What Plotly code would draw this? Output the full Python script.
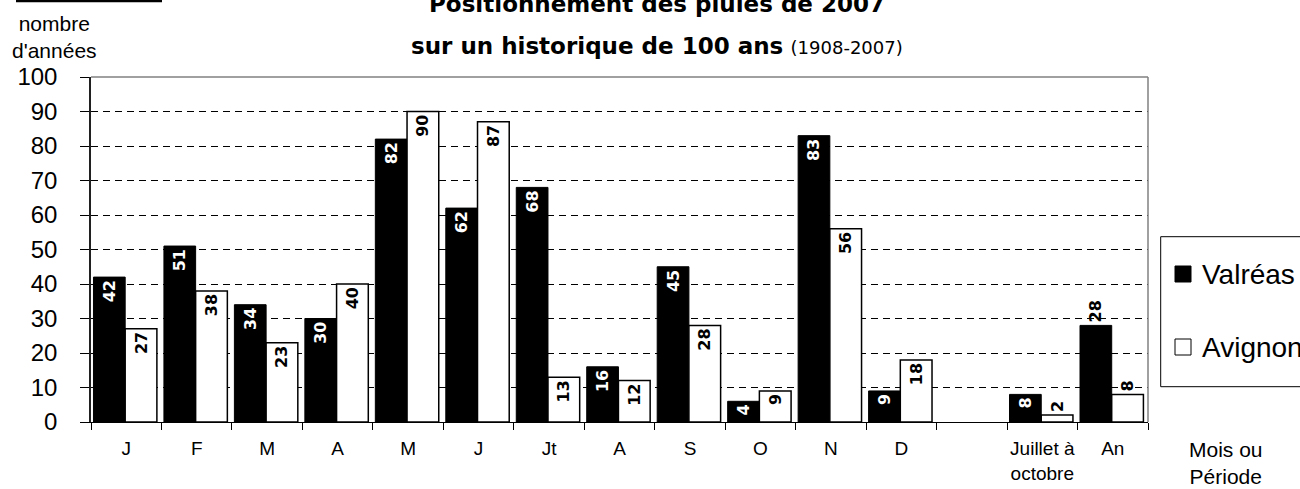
import plotly.graph_objects as go

# ---- data ----
categories = ["J", "F", "M", "A", "M", "J", "Jt", "A", "S", "O", "N", "D", "",
              "Juillet à<br>octobre", "An"]
valreas = [42, 51, 34, 30, 82, 62, 68, 16, 45, 6, 83, 9, None, 8, 28]
valreas_labels = ["42", "51", "34", "30", "82", "62", "68", "16", "45", "4", "83", "9", "", "8", "28"]
avignon = [27, 38, 23, 40, 90, 87, 13, 12, 28, 9, 56, 18, None, 2, 8]
avignon_labels = ["27", "38", "23", "40", "90", "87", "13", "12", "28", "9", "56", "18", "", "2", "8"]
y_ticks = list(range(0, 101, 10))

# ---- styles ----
valreas_pos = ["inside"] * 14 + ["outside"]
avignon_pos = ["inside"] * 13 + ["outside", "outside"]

x = list(range(len(categories)))
LAB = dict(family="DejaVu Sans", size=16, weight="bold")

fig = go.Figure()
fig.add_trace(go.Bar(
    x=x, y=valreas, name="Valréas", text=valreas_labels, textposition=valreas_pos,
    textangle=-90, insidetextanchor="end", constraintext="none", cliponaxis=False,
    insidetextfont=dict(LAB, color="white"), outsidetextfont=dict(LAB, color="black"),
    marker=dict(color="black", line=dict(color="black", width=1)),
    width=0.45, offset=-0.465, hoverinfo="skip"))
fig.add_trace(go.Bar(
    x=x, y=avignon, name="Avignon", text=avignon_labels, textposition=avignon_pos,
    textangle=-90, insidetextanchor="end", constraintext="none", cliponaxis=False,
    insidetextfont=dict(LAB, color="black"), outsidetextfont=dict(LAB, color="black"),
    marker=dict(color="white", line=dict(color="black", width=1.5)),
    width=0.45, offset=-0.015, hoverinfo="skip"))

L, R, T, B = 91, 152, 77, 67
W, H = 1300, 489
pw, ph = W - L - R, H - T - B

def px(xp):
    return (xp - L) / pw

def py(yp):
    return (H - B - yp) / ph

fig.update_layout(
    width=W, height=H, margin=dict(l=L, r=R, t=T, b=B, autoexpand=False),
    paper_bgcolor="white", plot_bgcolor="white", showlegend=False, barmode="overlay",
    uniformtext=dict(minsize=16, mode="show"),
    font=dict(family="Liberation Sans", color="black"),
    title=dict(text="<b>Positionnement des pluies de 2007</b>", x=657 / W, xanchor="center",
               y=1 - 4 / H, yanchor="middle", yref="container",
               font=dict(family="DejaVu Sans", size=23, color="black")),
    xaxis=dict(range=[-0.5, len(categories) - 0.5], tickmode="array", tickvals=x,
               ticktext=categories, ticks="", showline=True, linecolor="black", linewidth=1,
               showgrid=False, zeroline=False, ticklabelstandoff=9,
               tickfont=dict(family="Liberation Sans", size=19, color="black"),
               minor=dict(tickmode="array", tickvals=[i - 0.5 for i in range(len(categories) + 1)],
                          ticks="outside", ticklen=7, tickcolor="black", tickwidth=1, showgrid=False)),
    yaxis=dict(range=[0, 100], tickmode="array", tickvals=y_ticks, ticks="outside", ticklen=9,
               tickcolor="black", showline=True, linecolor="#202020", linewidth=1.5,
               showgrid=True, gridcolor="black", gridwidth=1, griddash="7px,5px",
               zeroline=False, ticklabelstandoff=18,
               tickfont=dict(family="Liberation Sans", size=24, color="black")),
)

shapes = [
    dict(type="line", xref="paper", yref="paper", x0=0, x1=1, y0=1, y1=1,
         line=dict(color="#808080", width=1.5), layer="above"),
    dict(type="line", xref="paper", yref="paper", x0=1, x1=1, y0=0, y1=1,
         line=dict(color="#808080", width=1.5), layer="above"),
    dict(type="line", xref="paper", yref="paper", x0=px(16), x1=px(162), y0=py(1), y1=py(1),
         line=dict(color="black", width=2.5)),
    dict(type="rect", xref="paper", yref="paper", x0=px(1160.7), x1=px(1330),
         y0=py(386.7), y1=py(236.7), line=dict(color="black", width=1), fillcolor="white"),
    dict(type="rect", xref="paper", yref="paper", x0=px(1175), x1=px(1191),
         y0=py(282), y1=py(266), line=dict(color="black", width=1), fillcolor="black"),
    dict(type="rect", xref="paper", yref="paper", x0=px(1175), x1=px(1191),
         y0=py(355), y1=py(339), line=dict(color="black", width=1), fillcolor="white"),
]
fig.update_layout(shapes=shapes)

ann = [
    dict(text="<b>sur un historique de 100 ans</b> <span style='font-size:18px'>(1908-2007)</span>",
         x=px(657), y=py(46), xanchor="center", yanchor="middle",
         font=dict(family="DejaVu Sans", size=23, color="black")),
    dict(text="nombre<br>d'années", x=px(54), y=py(37), xanchor="center", yanchor="middle",
         font=dict(family="Liberation Sans", size=21, color="black")),
    dict(text="Mois ou<br>Période", x=px(1226), y=py(463), xanchor="center", yanchor="middle",
         font=dict(family="Liberation Sans", size=21, color="black")),
    dict(text="Valréas", x=px(1200), y=py(274), xanchor="left", yanchor="middle",
         font=dict(family="Liberation Sans", size=28, color="black")),
    dict(text="Avignon", x=px(1200), y=py(347), xanchor="left", yanchor="middle",
         font=dict(family="Liberation Sans", size=28, color="black")),
]
for a in ann:
    a.update(xref="paper", yref="paper", showarrow=False)
fig.update_layout(annotations=ann)

fig.write_html("out.html", config={"displayModeBar": False},
               post_script="document.body.style.margin='0px';")
